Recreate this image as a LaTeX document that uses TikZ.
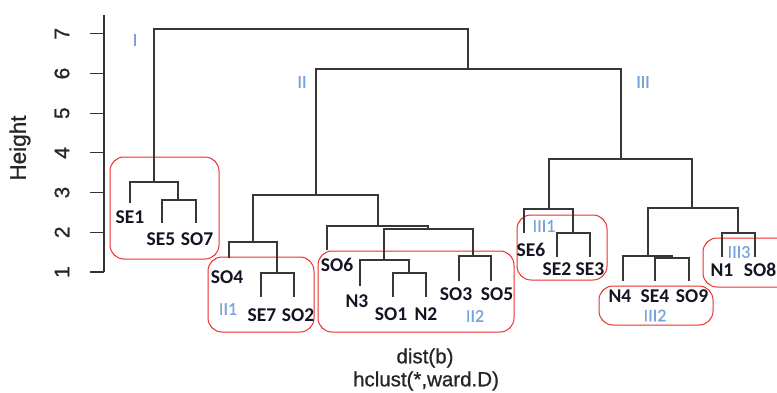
\documentclass[tikz,border=0pt]{standalone}
\usepackage{fontspec}
\setmainfont{Carlito}
\newfontfamily\arialf[FakeBold=0.8]{Liberation Sans}
\newfontfamily\carl[FakeBold=0.3]{Carlito}
\definecolor{treegray}{RGB}{55,55,55}
\definecolor{lblue}{RGB}{120,162,218}
\definecolor{boxred}{RGB}{238,45,45}
\definecolor{leafink}{RGB}{20,20,35}
\tikzset{
  tree/.style={draw=treegray,line width=1.4pt},
  axisline/.style={draw=black!80,line width=1.1pt},
  leaf/.style={font=\fontsize{19.5}{19.5}\selectfont\bfseries,text=leafink,inner sep=0pt},
  grp/.style={font=\carl\fontsize{18}{18}\selectfont,text=lblue,inner sep=0pt},
  clbox/.style={draw=boxred,line width=1pt,rounded corners=14pt},
  ticklab/.style={font=\arialf\fontsize{21}{21}\selectfont,text=black!85,rotate=90,inner sep=0pt},
  axlab/.style={font=\arialf\fontsize{20.5}{20.5}\selectfont,text=black!85,inner sep=0pt}
}
\begin{document}
\begin{tikzpicture}[x=1pt,y=-1pt]
\useasboundingbox[fill=white] (0,0) rectangle (777,392);
% axis
\draw[axisline] (104,15) -- (104,272);
\foreach \h in {1,...,7}{
  \draw[axisline] (90,{272-(\h-1)*39.7}) -- (104,{272-(\h-1)*39.7});
  \node[ticklab] (t\h) at (62,{272-(\h-1)*39.7}) {\h};
}
\node[ticklab,font=\arialf\fontsize{22.5}{22.5}\selectfont] (ylab) at (20,148) {Height};
% red cluster boxes
\draw[clbox] (110,157) rectangle (219,259);
\draw[clbox] (208,257) rectangle (314,332);
\draw[clbox] (318,251) rectangle (514,332);
\draw[clbox] (517,215) rectangle (607,280);
\draw[clbox] (599,286) rectangle (713,325);
\draw[clbox] (703,238) rectangle (792,287);
% tree: top
\draw[tree] (154,182) |- (468,29) -- (468,69);
\draw[tree] (316,195) |- (621,69) -- (621,159);
% cluster I
\draw[tree] (130,203) |- (178,182) -- (178,200);
\draw[tree] (162,223) |- (196,200) -- (196,223);
% cluster II
\draw[tree] (253,242) |- (378,195) -- (378,226);
\draw[tree] (229,258) |- (277,242) -- (277,273);
\draw[tree] (261,297) |- (294,273) -- (294,297);
\draw[tree] (327,250) |- (428,226) -- (428,229);
\draw[tree] (384,260) |- (473,229) -- (473,256);
\draw[tree] (360,286) |- (409,260) -- (409,273);
\draw[tree] (393,297) |- (426,273) -- (426,297);
\draw[tree] (459,281) |- (491,256) -- (491,281);
% cluster III
\draw[tree] (549,209) |- (692,159) -- (692,208);
\draw[tree] (524,233) |- (573,209) -- (573,233);
\draw[tree] (557,257) |- (590,233) -- (590,257);
\draw[tree] (648,256) |- (738,208) -- (738,233);
\draw[tree] (623,281) |- (672,256) -- (672,258);
\draw[tree] (655,281) |- (689,258) -- (689,281);
\draw[tree] (722,257) |- (755,233) -- (755,257);
% leaf labels
\node[leaf] (SE1) at (130,217) {SE1};
\node[leaf] (SE5) at (161,239) {SE5};
\node[leaf] (SO7) at (197,239) {SO7};
\node[leaf] (SO4) at (227,277) {SO4};
\node[leaf] (SE7) at (262,315) {SE7};
\node[leaf] (SO2) at (298,315) {SO2};
\node[leaf] (SO6) at (337,265) {SO6};
\node[leaf] (N3) at (357,301) {N3};
\node[leaf] (SO1) at (391,314) {SO1};
\node[leaf] (N2) at (426,314) {N2};
\node[leaf] (SO3) at (456,294) {SO3};
\node[leaf] (SO5) at (497,294) {SO5};
\node[leaf] (SE6) at (531,250) {SE6};
\node[leaf] (SE2) at (557,269) {SE2};
\node[leaf] (SE3) at (590,269) {SE3};
\node[leaf] (N4) at (620,296) {N4};
\node[leaf] (SE4) at (655,296) {SE4};
\node[leaf] (SO9) at (692,296) {SO9};
\node[leaf] (N1) at (722,270) {N1};
\node[leaf] (SO8) at (760,270) {SO8};
% group labels
\node[grp] (gI) at (135,40) {I};
\node[grp] (gII) at (302,82) {II};
\node[grp] (gIII) at (643,82) {III};
\node[grp] (gII1) at (228,309) {II1};
\node[grp] (gII2) at (475,316) {II2};
\node[grp] (gIII1) at (544,226) {III1};
\node[grp] (gIII2) at (655,315.5) {III2};
\node[grp] (gIII3) at (739,252) {III3};
% bottom titles
\node[axlab] (xlab) at (425,358) {dist(b)};
\node[axlab] (sub) at (426,381) {hclust(*,ward.D)};
\end{tikzpicture}
\end{document}
